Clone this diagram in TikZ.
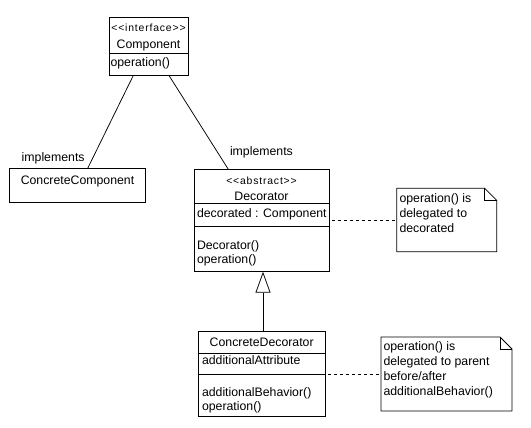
\documentclass[tikz,border=0pt]{standalone}
\usepackage{fontspec}
\setmainfont{Liberation Sans}
\newfontfamily\stereofont[LetterSpace=8]{Liberation Sans}
\usetikzlibrary{arrows.meta,calc}
\begin{document}
\begin{tikzpicture}[x=1pt,y=-1pt,line width=0.75pt,
  cls/.style={draw,rectangle,inner sep=0pt,outer sep=0pt,anchor=north west},
  notebox/.style={rectangle,inner sep=0pt,outer sep=0pt,anchor=north west},
  txt/.style={inner sep=0pt,outer sep=0pt,font=\fontsize{12.3}{14.6}\selectfont},
  lt/.style={txt,anchor=base west},
  ct/.style={txt,anchor=base},
  st/.style={inner sep=0pt,outer sep=0pt,anchor=base,font=\stereofont\fontsize{10.4}{12}\selectfont},
  dsh/.style={dash pattern=on 3pt off 3pt,dash phase=3pt,line width=0.7pt},
  inh/.style={-{Triangle[open,length=21pt,width=15pt]}}]
\useasboundingbox (0,0) rectangle (531,428);
\fill[white] (0,0) rectangle (531,428);

% Component
\node[cls,minimum width=79pt,minimum height=58.5pt] (comp) at (109,17) {};
\draw ($(comp.north west)+(0,36.5)$) -- ($(comp.north east)+(0,36.5)$);
\node[st] (compst) at (148.5,31.3) {<<interface>>};
\node[ct] (compname) at (148.5,48.5) {Component};
\node[lt] (compop) at (110.5,67) {operation()};

% ConcreteComponent
\node[cls,minimum width=136pt,minimum height=34pt] (cc) at (9,168.3) {};
\node[ct] (ccname) at (77.5,184.7) {ConcreteComponent};

% Decorator
\node[cls,minimum width=135pt,minimum height=102.4pt] (dec) at (194,169.3) {};
\draw ($(dec.north west)+(0,34)$) -- ($(dec.north east)+(0,34)$);
\draw ($(dec.north west)+(0,57.4)$) -- ($(dec.north east)+(0,57.4)$);
\node[st] (decst) at (261.5,185) {<<abstract>>};
\node[ct] (decname) at (261.5,200.7) {Decorator};
\node[lt] (decattr) at (197,217.3) {decorated : Component};
\node[lt] (decm1) at (197,249.3) {Decorator()};
\node[lt] (decm2) at (197,263.6) {operation()};

% ConcreteDecorator
\node[cls,minimum width=126.7pt,minimum height=85pt] (cd) at (198.3,331.7) {};
\draw ($(cd.north west)+(0,21.6)$) -- ($(cd.north east)+(0,21.6)$);
\draw ($(cd.north west)+(0,42.6)$) -- ($(cd.north east)+(0,42.6)$);
\node[ct] (cdname) at (261.7,346.7) {ConcreteDecorator};
\node[lt] (cdattr) at (202,364.3) {additionalAttribute};
\node[lt] (cdm1) at (202,396.7) {additionalBehavior()};
\node[lt] (cdm2) at (202,410.5) {operation()};

% Note 1
\node[notebox,minimum width=100pt,minimum height=63.4pt] (n1) at (396.7,188.3) {};
\draw ($(n1.north east)+(-12,0)$) -- (n1.north west) -- (n1.south west) -- (n1.south east) -- ($(n1.north east)+(0,12)$) -- cycle;
\draw ($(n1.north east)+(-12,0)$) -- ($(n1.north east)+(-12,12)$) -- ($(n1.north east)+(0,12)$);
\node[lt] (n1a) at (399.5,203) {operation() is};
\node[lt] (n1b) at (399.5,217.6) {delegated to};
\node[lt] (n1c) at (399.5,232.2) {decorated};

% Note 2
\node[notebox,minimum width=131pt,minimum height=74pt] (n2) at (381,337) {};
\draw ($(n2.north east)+(-12,0)$) -- (n2.north west) -- (n2.south west) -- (n2.south east) -- ($(n2.north east)+(0,12)$) -- cycle;
\draw ($(n2.north east)+(-12,0)$) -- ($(n2.north east)+(-12,12)$) -- ($(n2.north east)+(0,12)$);
\node[lt] (n2a) at (383.5,350) {operation() is};
\node[lt] (n2b) at (383.5,365) {delegated to parent};
\node[lt] (n2c) at (383.5,380) {before/after};
\node[lt] (n2d) at (383.5,395) {additionalBehavior()};

% Connectors
\draw ($(comp.south west)+(24.3,0)$) -- ($(cc.north west)+(78.7,0)$);
\draw ($(comp.south west)+(60,0)$) -- ($(dec.north west)+(34.3,0)$);
\node[lt] (impl1) at (21.7,161.7) {implements};
\node[lt] (impl2) at (230,156) {implements};
\draw[inh] ($(cd.north west)+(64.7,0)$) -- ($(dec.south west)+(69,0)$);
\draw[dsh] (dec.east) -- (dec.east -| n1.west);
\draw[dsh] (cd.east) -- (cd.east -| n2.west);
\end{tikzpicture}
\end{document}
